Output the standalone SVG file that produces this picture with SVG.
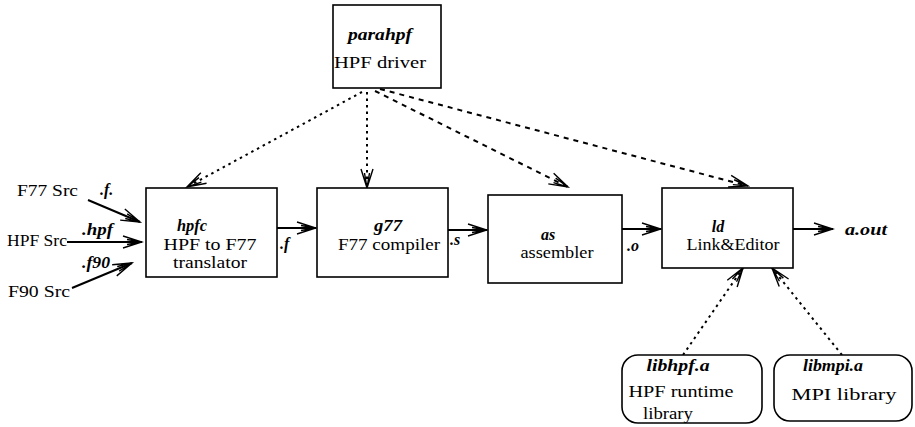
<svg xmlns="http://www.w3.org/2000/svg" width="915" height="427" viewBox="0 0 915 427">
<style>
.box{fill:#fff;stroke:#000;stroke-width:1.6}
.t{font-family:'Liberation Serif','Times New Roman',Tinos,'DejaVu Serif',serif;font-size:16px;fill:#000;text-anchor:middle}
.i{font-style:italic;font-weight:bold}
.l{text-anchor:start}
.solid{stroke:#000;stroke-width:2;fill:none}
.dot{stroke:#000;stroke-width:2;fill:none;stroke-dasharray:2.5,4}
.dash{stroke:#000;stroke-width:2;fill:none;stroke-dasharray:5,5}
</style>
<defs>
<marker id="ah" markerUnits="userSpaceOnUse" markerWidth="22" markerHeight="14" refX="20" refY="7" orient="auto">
<path d="M1,1 L20,7 L1,13 M5,4.5 L20,7 L5,9.5" fill="none" stroke="#000" stroke-width="1.4"/>
</marker>
</defs>
<rect width="915" height="427" fill="#fff"/>
<g id="connectors">
<line class="solid" x1="88" y1="200" x2="140" y2="222" marker-end="url(#ah)"/>
<line class="solid" x1="67" y1="242" x2="142" y2="242" marker-end="url(#ah)"/>
<line class="solid" x1="72" y1="288" x2="132" y2="263" marker-end="url(#ah)"/>
<line class="solid" x1="277" y1="228" x2="316" y2="228" marker-end="url(#ah)"/>
<line class="solid" x1="448" y1="230" x2="487" y2="230" marker-end="url(#ah)"/>
<line class="solid" x1="622" y1="229" x2="661" y2="229" marker-end="url(#ah)"/>
<line class="solid" x1="793" y1="229" x2="833" y2="229" marker-end="url(#ah)"/>
<line class="dot" x1="362" y1="92" x2="187" y2="187" marker-end="url(#ah)"/>
<line class="dot" x1="367" y1="92" x2="367" y2="188" marker-end="url(#ah)"/>
<line class="dash" x1="375" y1="91" x2="568" y2="187" marker-end="url(#ah)"/>
<line class="dash" x1="380" y1="89" x2="748" y2="186" marker-end="url(#ah)"/>
<line class="dot" x1="683" y1="355" x2="743" y2="268" marker-end="url(#ah)"/>
<line class="dot" x1="842" y1="355" x2="772" y2="268" marker-end="url(#ah)"/>
<text class="t i l" x="100" y="195">.f.</text>
<text class="t i l" x="82" y="235" textLength="31" lengthAdjust="spacingAndGlyphs">.hpf</text>
<text class="t i l" x="82" y="268" textLength="28" lengthAdjust="spacingAndGlyphs">.f90</text>
<text class="t i l" x="280" y="249">.f</text>
<text class="t i l" x="450" y="245">.s</text>
<text class="t i l" x="627" y="251">.o</text>
<text class="t i l" x="845" y="235" textLength="42" lengthAdjust="spacingAndGlyphs">a.out</text>
</g>
<g id="src-f77"><text class="t l" x="17" y="196" textLength="61" lengthAdjust="spacingAndGlyphs">F77 Src</text></g>
<g id="src-hpf"><text class="t l" x="7" y="246" textLength="60" lengthAdjust="spacingAndGlyphs">HPF Src</text></g>
<g id="src-f90"><text class="t l" x="8" y="297" textLength="62" lengthAdjust="spacingAndGlyphs">F90 Src</text></g>
<g id="parahpf">
<rect class="box" x="333" y="5" width="108" height="83"/>
<text class="t i" x="380" y="40" textLength="64" lengthAdjust="spacingAndGlyphs">parahpf</text>
<text class="t" x="380" y="68" textLength="92" lengthAdjust="spacingAndGlyphs">HPF driver</text>
</g>
<g id="hpfc">
<rect class="box" x="146" y="188" width="131" height="89"/>
<text class="t i" x="192" y="231" textLength="30" lengthAdjust="spacingAndGlyphs">hpfc</text>
<text class="t" x="210" y="250" textLength="93" lengthAdjust="spacingAndGlyphs">HPF to F77</text>
<text class="t" x="210" y="268" textLength="74" lengthAdjust="spacingAndGlyphs">translator</text>
</g>
<g id="g77">
<rect class="box" x="317" y="188" width="131" height="89"/>
<text class="t i" x="388" y="231" textLength="28" lengthAdjust="spacingAndGlyphs">g77</text>
<text class="t" x="389" y="250" textLength="102" lengthAdjust="spacingAndGlyphs">F77 compiler</text>
</g>
<g id="as">
<rect class="box" x="488" y="195" width="134" height="88"/>
<text class="t i" x="548" y="240">as</text>
<text class="t" x="557" y="258" textLength="73" lengthAdjust="spacingAndGlyphs">assembler</text>
</g>
<g id="ld">
<rect class="box" x="662" y="188" width="131" height="80"/>
<text class="t i" x="718" y="232">ld</text>
<text class="t" x="733" y="250" textLength="93" lengthAdjust="spacingAndGlyphs">Link&amp;Editor</text>
</g>
<g id="libhpf">
<rect class="box" x="622" y="355" width="140" height="68" rx="16"/>
<text class="t i" x="678" y="371" textLength="63" lengthAdjust="spacingAndGlyphs">libhpf.a</text>
<text class="t" x="681" y="397" textLength="105" lengthAdjust="spacingAndGlyphs">HPF runtime</text>
<text class="t" x="668" y="419" textLength="50" lengthAdjust="spacingAndGlyphs">library</text>
</g>
<g id="libmpi">
<rect class="box" x="774" y="355" width="138" height="66" rx="16"/>
<text class="t i" x="833" y="371" textLength="60" lengthAdjust="spacingAndGlyphs">libmpi.a</text>
<text class="t" x="844" y="400" textLength="105" lengthAdjust="spacingAndGlyphs">MPI library</text>
</g>
</svg>
